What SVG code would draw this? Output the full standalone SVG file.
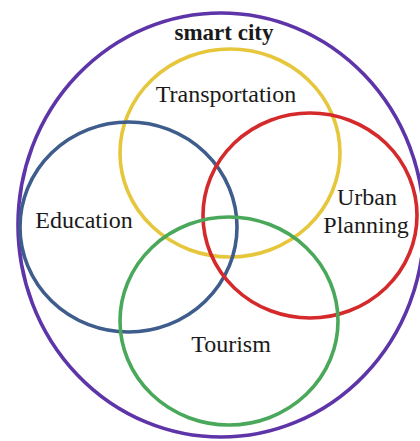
<svg xmlns="http://www.w3.org/2000/svg" width="420" height="441" viewBox="0 0 420 441">
<style>
.ring{fill:none;stroke-width:3.6}
.lbl{font-family:"Liberation Serif","Times New Roman",serif;font-size:24px;fill:#1a1a1a;text-anchor:middle}
.title{font-family:"Liberation Serif","Times New Roman",serif;font-size:23px;font-weight:bold;fill:#1a1a1a;text-anchor:middle}
</style>
<rect width="420" height="441" fill="#ffffff"/>
<g id="smart-city">
<ellipse class="ring" cx="221" cy="225" rx="203" ry="212" stroke="#5e35a8" stroke-width="4"/>
<text class="title" x="224" y="40">smart city</text>
</g>
<g id="transportation">
<ellipse class="ring" cx="230" cy="153" rx="110" ry="104" stroke="#e6c63a"/>
<text class="lbl" x="226" y="102">Transportation</text>
</g>
<g id="education">
<ellipse class="ring" cx="128.5" cy="227" rx="108.5" ry="105" stroke="#3f5d8c"/>
<text class="lbl" x="84" y="228">Education</text>
</g>
<g id="urban-planning">
<ellipse class="ring" cx="310" cy="215.5" rx="107" ry="102.5" stroke="#d42a2c"/>
<text class="lbl" x="367" y="205">Urban</text>
<text class="lbl" x="366" y="233">Planning</text>
</g>
<g id="tourism">
<ellipse class="ring" cx="229" cy="321" rx="109" ry="104" stroke="#4aa85a"/>
<text class="lbl" x="231" y="352">Tourism</text>
</g>
<g id="connectors"></g>
</svg>
